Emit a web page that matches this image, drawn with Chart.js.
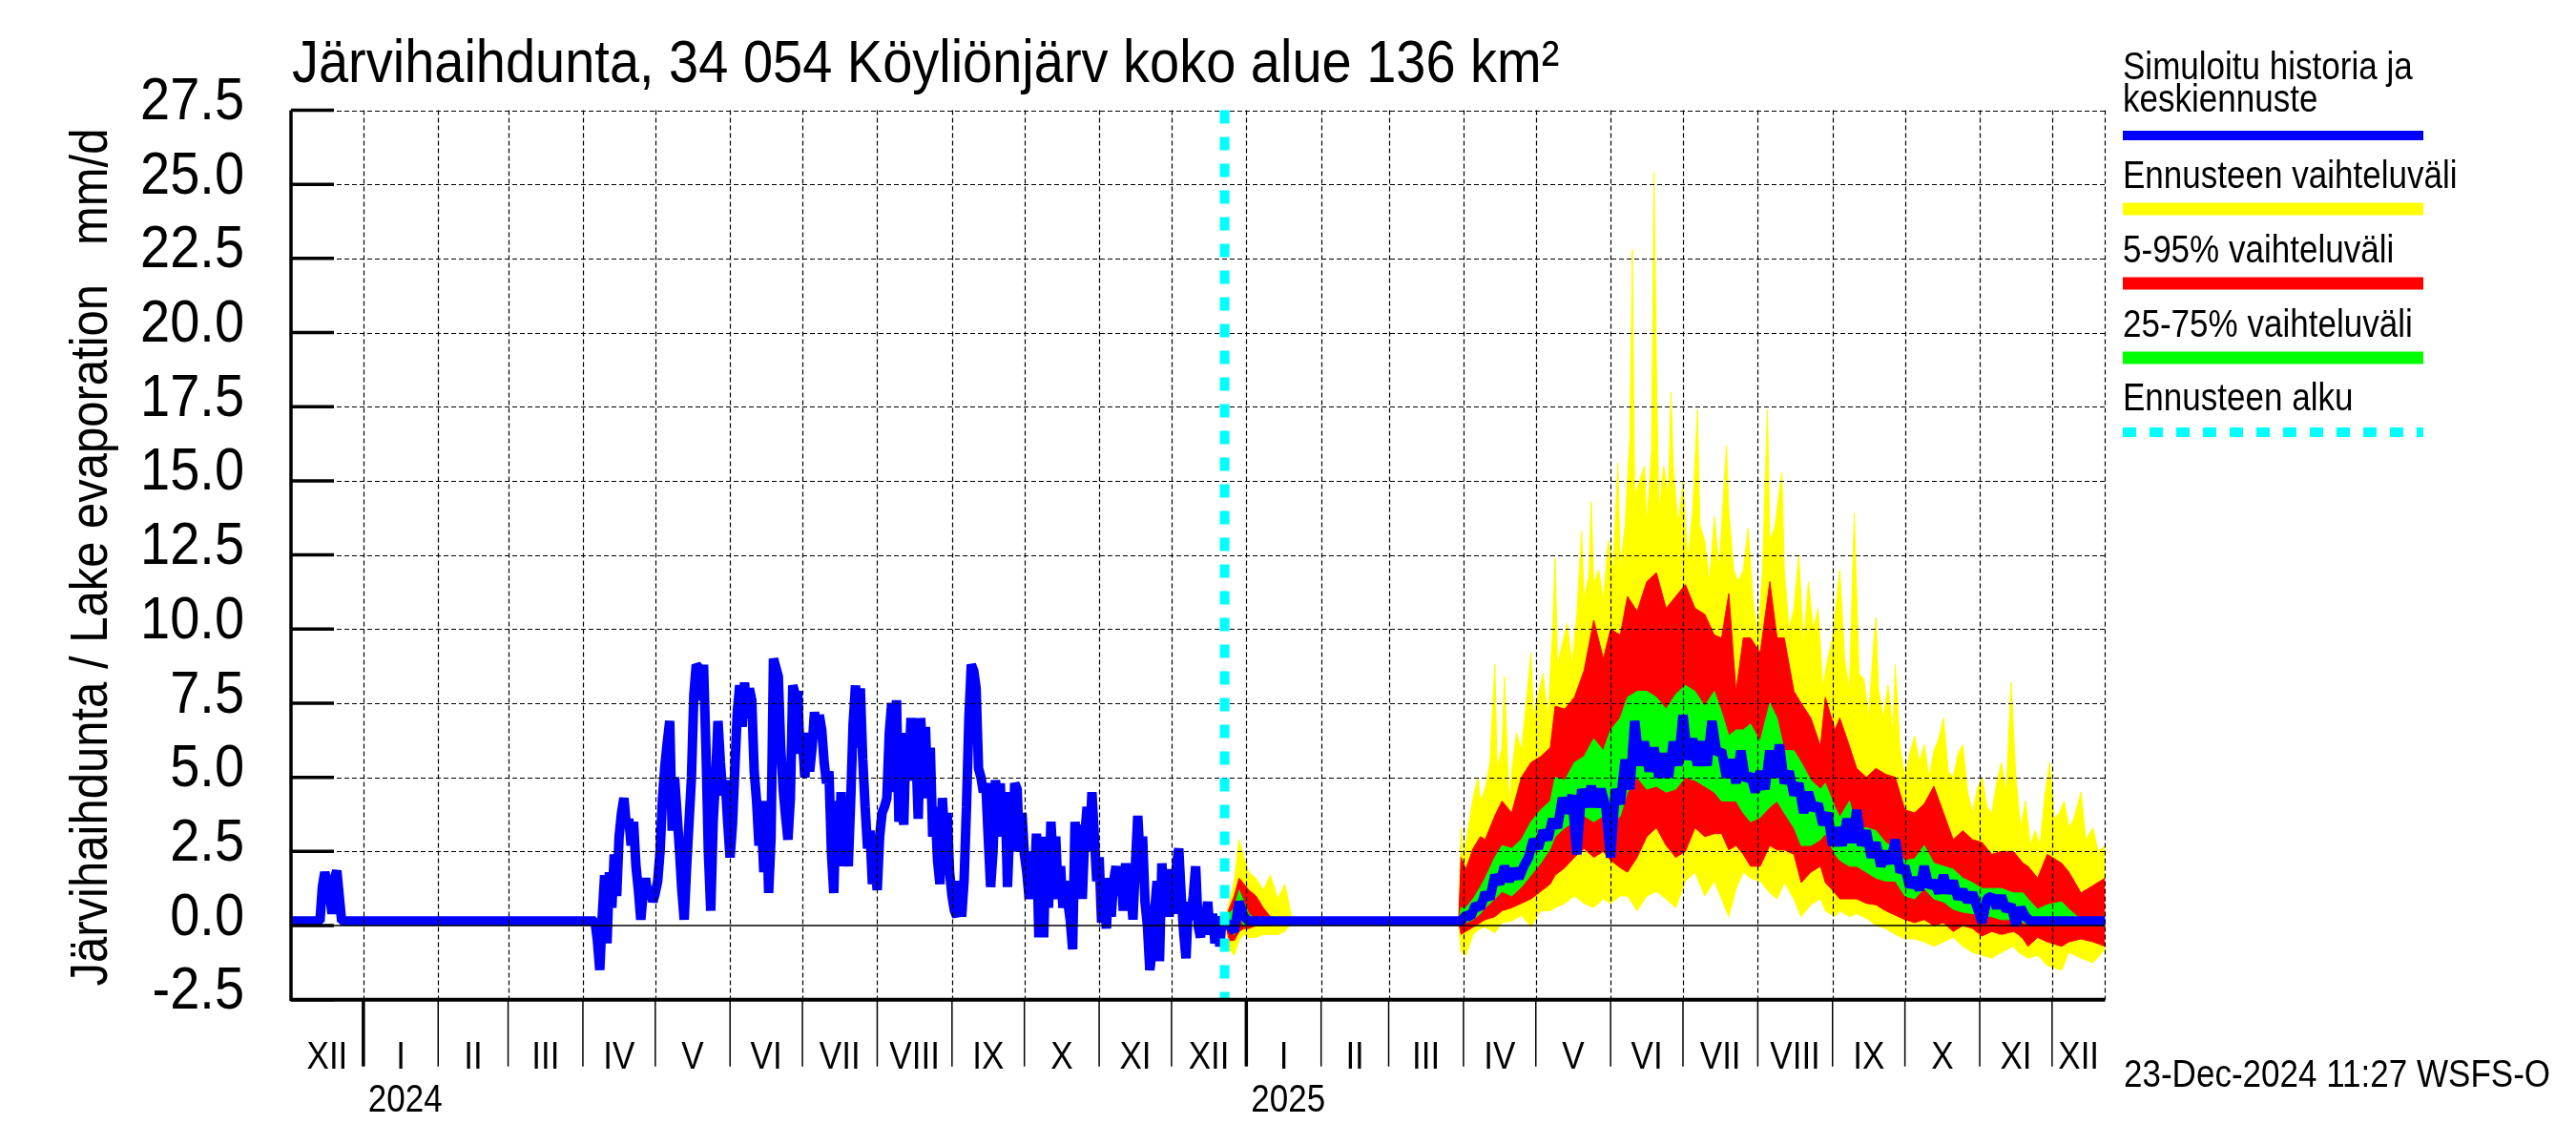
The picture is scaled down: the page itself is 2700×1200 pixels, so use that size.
<!DOCTYPE html>
<html>
<head>
<meta charset="utf-8">
<script src="https://cdn.jsdelivr.net/npm/chart.js@4.4.0/dist/chart.umd.min.js"></script>
<style>
    html, body { margin: 0; padding: 0; background: #fff; }
    canvas { display: block; }
</style>
</head>
<body>
<canvas id="chart" width="2700" height="1200" style="width:2700px;height:1200px"></canvas>
<script>
// Days are counted from 1 Dec 2023
const titleText = 'Järvihaihdunta, 34 054 Köyliönjärv koko alue 136 km²';
const yTitle = 'Järvihaihdunta / Lake evaporation   mm/d';
const stamp = '23-Dec-2024 11:27 WSFS-O';
const yTicks = [-2.5, 0, 2.5, 5, 7.5, 10, 12.5, 15, 17.5, 20, 22.5, 25, 27.5];
const monthLabels = ['XII', 'I', 'II', 'III', 'IV', 'V', 'VI', 'VII', 'VIII', 'IX', 'X', 'XI', 'XII',
    'I', 'II', 'III', 'IV', 'V', 'VI', 'VII', 'VIII', 'IX', 'X', 'XI', 'XII'];
const yearLabels = ['2024', '2025'];
const legendItems = [
    { text: ['Simuloitu historia ja', 'keskiennuste'], color: '#0000ff' },
    { text: ['Ennusteen vaihteluväli'], color: '#ffff00' },
    { text: ['5-95% vaihteluväli'], color: '#ff0000' },
    { text: ['25-75% vaihteluväli'], color: '#00ff00' },
    { text: ['Ennusteen alku'], color: '#00ffff', dashed: true }
];

const xMin = 1;
const xMax = 753;
const forecastStart = 388;

// simulated history: winter part as day/value pairs, then daily values
const winterDays = [1, 13, 14, 15, 16, 17, 18, 19, 20, 21, 22, 126];
const winterVals = [0.15, 0.15, 1.3, 1.8, 1.4, 1.1, 0.4, 1.6, 1.85, 1.0, 0.15, 0.15];
const summerStart = 127;
const summerVals = [
    0.15,
    -0.5, -1.5, 0.3, 1.7, -0.6, 1.8, 0.6, 2.4, 1.0, 3.0,
    3.8, 4.3, 3.4, 3.6, 2.7, 3.5, 2.0, 1.2, 0.2, 1.1,
    1.6, 0.9, 1.3, 0.8, 1.1, 1.5, 2.5, 4.3, 5.4, 6.2,
    6.9, 3.2, 5.0, 3.8, 2.6, 1.2, 0.2, 2.0, 3.5, 5.0,
    7.8, 8.8, 8.7, 7.6, 8.8, 6.0, 2.5, 0.5, 3.5, 5.0,
    6.9, 5.5, 4.4, 4.9, 3.5, 2.3, 3.4, 5.3, 7.2, 8.1,
    6.7, 8.2, 7.0, 8.0, 7.6, 5.2, 4.2, 2.7, 3.6, 1.8,
    4.2, 1.1, 3.0, 9.0, 8.7, 8.4, 6.0, 4.6, 3.7, 2.9,
    4.3, 8.1, 7.8, 7.9, 5.8, 6.3, 5.0, 6.5, 5.2, 6.0,
    7.2, 6.3, 7.1, 6.6, 5.5, 4.8, 5.2, 2.5, 1.1, 4.2,
    2.0, 4.5, 2.3, 3.5, 2.0, 4.2, 6.8, 8.1, 6.0, 8.0,
    5.6, 4.0, 2.6, 3.2, 1.4, 2.2, 1.2, 3.0, 3.8, 4.0,
    4.3, 6.5, 7.5, 4.5, 7.6, 3.5, 4.5, 3.4, 6.5, 5.0,
    7.0, 4.9, 6.0, 3.6, 7.0, 5.3, 6.7, 4.3, 6.0, 3.0,
    4.0, 2.2, 1.4, 4.3, 2.9, 3.8, 1.8, 1.0, 0.5, 0.3,
    1.5, 0.3, 1.5, 4.0, 7.0, 8.8, 8.6, 8.0, 5.3, 5.0,
    4.5, 4.8, 3.0, 1.3, 2.5, 4.9, 4.0, 4.8, 3.0, 4.5,
    1.3, 3.5, 2.5, 4.8, 4.6, 2.5, 3.8, 2.4, 1.8, 0.9,
    2.5, 1.2, 3.1, -0.4, 3.0, -0.4, 2.8, 0.6, 3.5, 2.0,
    3.0, 0.9, 2.0, 0.6, 1.5, 0.8, 0.2, -0.8, 3.5, 1.2,
    3.4, 0.9, 3.0, 4.0, 2.5, 4.5, 3.0, 1.5, 2.3, 0.1,
    1.0, -0.1, 1.6, 0.3, 1.5, 2.0, 1.0, 2.0, 0.5, 2.1,
    0.8, 1.5, 0.2, 2.0, 3.7, 2.2, 3.0, 0.8, 0.0, -1.5,
    -0.8, 0.5, 1.5, -1.2, 2.1, 0.4, 1.9, 0.3, 1.3, 0.4,
    2.0, 2.6, 1.0, -0.2, -1.1, 0.8, 0.2, 1.0, 2.0, 0.0,
    -0.4, 0.6, 0.2, 0.8, -0.3, 0.4, -0.6, 0.2, -0.7, 0.3, 0.1
];

// forecast percentiles
const fcDays = [388, 390, 392, 394, 396, 398, 401, 404, 407, 410,
    413, 416, 485, 486, 488, 491, 494, 496, 500, 503,
    507, 511, 515, 519, 523, 525, 529, 533, 537, 541,
    545, 548, 552, 555, 559, 563, 567, 571, 575, 579,
    583, 587, 591, 594, 597, 600, 603, 606, 610, 614,
    617, 620, 624, 627, 631, 635, 637, 641, 643, 647,
    650, 654, 658, 662, 666, 670, 674, 678, 682, 686,
    690, 694, 698, 702, 706, 710, 715, 717, 719, 721,
    725, 729, 735, 738, 743, 748, 753];
const fcP95 = [0.15, 0.6, 1.0, 1.6, 1.4, 1.2, 1.0, 0.6, 0.3, 0.2,
    0.2, 0.15, 0.15, 2.3, 1.9, 2.6, 3.0, 2.9, 3.7, 4.2,
    3.8, 5.0, 5.5, 5.7, 6.0, 7.4, 7.3, 7.7, 8.6, 10.3,
    9.0, 10.0, 9.8, 11.1, 10.6, 11.6, 11.9, 10.7, 11.1, 11.5,
    10.7, 10.5, 9.8, 9.7, 11.2, 7.9, 9.7, 9.7, 9.2, 11.6,
    9.7, 9.7, 7.9, 7.5, 7.0, 6.05, 7.7, 6.6, 7.0, 6.05,
    5.3, 5.0, 5.3, 5.1, 5.0, 3.9, 3.8, 4.1, 4.7, 3.8,
    2.9, 3.2, 2.9, 2.8, 2.4, 2.5, 2.5, 2.3, 2.1, 2.0,
    1.6, 2.4, 2.1, 1.8, 1.1, 1.35, 1.6];
const fcP75 = [0.15, 0.4, 0.6, 1.2, 0.8, 0.4, 0.2, 0.15, 0.15, 0.15,
    0.15, 0.15, 0.15, 0.6, 0.6, 0.9, 1.3, 1.6, 2.3, 2.7,
    2.6, 2.9, 3.5, 3.9, 4.2, 5.0, 4.9, 5.5, 5.7, 6.3,
    5.9, 6.6, 7.0, 7.7, 7.9, 7.9, 7.7, 7.3, 7.8, 8.1,
    7.9, 7.4, 7.9, 7.2, 6.4, 6.6, 6.6, 6.8, 6.2, 7.5,
    7.0, 5.9, 5.9, 5.5, 4.9, 4.6, 4.8, 4.0, 3.65, 4.2,
    3.3, 3.3, 3.2, 2.8, 2.6, 2.2, 2.25, 2.7, 2.1, 2.0,
    1.9, 1.6, 1.45, 1.25, 1.25, 1.25, 1.1, 1.1, 1.1, 0.9,
    0.55, 0.7, 0.8, 0.55, 0.2, 0.2, 0.3];
const fcP25 = [0.15, -0.2, -0.3, 0.3, 0.0, 0.0, 0.1, 0.1, 0.1, 0.1,
    0.15, 0.15, 0.15, 0.0, 0.1, 0.2, 0.4, 0.6, 0.9, 1.15,
    1.0, 1.3, 1.7, 2.1, 2.6, 3.0, 3.3, 3.5, 3.7, 3.5,
    3.7, 3.3, 3.7, 4.5, 5.0, 4.6, 4.7, 4.5, 4.6, 5.0,
    4.9, 4.7, 4.5, 4.2, 4.2, 4.2, 3.8, 3.5, 3.65, 4.0,
    4.2, 3.8, 3.3, 2.7, 2.7, 2.9, 3.1, 2.4, 2.2, 2.0,
    2.0, 1.8, 1.6, 1.5, 1.5, 1.0, 0.9, 1.25, 0.9, 0.8,
    0.55, 0.45, 0.4, 0.35, 0.3, 0.2, 0.2, 0.15, 0.1, 0.05,
    0.0, 0.0, 0.0, 0.0, 0.0, 0.0, 0.0];
const fcP5 = [0.15, -0.5, -0.5, -0.2, -0.1, -0.1, 0.0, 0.0, 0.0, 0.05,
    0.1, 0.15, 0.15, -0.3, -0.2, -0.05, 0.1, 0.2, 0.3, 0.5,
    0.6, 0.75, 0.9, 1.15, 1.4, 1.7, 1.95, 2.3, 2.6, 2.3,
    2.5, 2.2, 1.95, 1.8, 2.3, 3.0, 3.3, 2.7, 2.3, 2.5,
    3.3, 3.0, 3.1, 3.1, 2.55, 2.7, 2.4, 2.0, 2.0, 2.7,
    2.55, 2.55, 2.4, 1.45, 1.8, 2.0, 1.45, 1.1, 0.9, 0.9,
    0.9, 0.75, 0.7, 0.5, 0.35, 0.2, 0.1, 0.2, 0.0, 0.1,
    -0.2, 0.0, -0.1, -0.35, -0.2, -0.3, -0.2, -0.3, -0.45, -0.7,
    -0.4, -0.55, -0.7, -0.55, -0.45, -0.55, -0.7];
const fcMin = [0.15, -0.8, -1.0, -0.5, -0.3, -0.4, -0.4, -0.3, -0.3, -0.3,
    -0.2, 0.15, 0.15, -0.9, -1.0, -0.3, -0.1, -0.05, -0.25, 0.1,
    0.15, 0.35, -0.05, 0.5, 0.5, 0.6, 0.75, 1.0, 0.75, 0.6,
    0.9, 0.75, 1.0, 1.0, 0.5, 1.0, 1.15, 0.9, 0.6, 1.5,
    1.8, 1.0, 1.5, 0.9, 0.3, 1.25, 1.8, 1.6, 1.5, 1.1,
    0.9, 1.45, 0.9, 0.3, 0.7, 0.9, 0.5, 0.3, 0.5, 0.3,
    0.4, 0.25, 0.0, -0.1, -0.3, -0.45, -0.45, -0.55, -0.7, -0.55,
    -0.4, -0.7, -0.9, -1.0, -1.1, -0.9, -0.7, -0.9, -1.0, -1.1,
    -1.0, -1.35, -1.5, -0.9, -1.1, -1.25, -0.8];

// forecast median: start, every second day 486..722, end
const medHeadDays = [388, 390, 392, 394, 396, 398, 485];
const medHeadVals = [0.15, 0.0, -0.2, 0.8, 0.3, 0.15, 0.15];
const medStart = 486;
const medVals = [
    0.15, 0.35, 0.3, 0.7, 0.6, 1.1, 0.9, 1.7, 1.4, 2.0,
    1.5, 1.9, 1.6, 2.0, 2.3, 2.9, 2.6, 3.2, 2.9, 3.6,
    3.3, 4.3, 3.8, 4.4, 2.4, 4.6, 4.0, 4.7, 4.0, 4.6,
    4.0, 2.3, 4.6, 4.1, 5.6, 4.6, 6.9, 5.4, 6.2, 5.2,
    6.0, 5.0, 5.8, 5.0, 6.2, 5.4, 7.1, 5.6, 6.3, 5.4,
    6.2, 5.4, 6.9, 5.8, 5.9, 5.0, 5.6, 4.8, 5.9, 4.9,
    5.1, 4.5, 5.2, 4.6, 5.9, 5.0, 6.1, 4.8, 5.2, 4.4,
    4.8, 3.8, 4.5, 3.9, 4.1, 3.4, 3.8, 2.7, 3.3, 2.7,
    3.6, 2.8, 3.9, 2.7, 3.2, 2.3, 2.8, 2.0, 2.5, 2.1,
    2.9, 1.8, 2.0, 1.3, 1.6, 1.2, 2.0, 1.3, 1.5, 1.1,
    1.7, 1.1, 1.5, 0.9, 1.2, 0.8, 1.1, 0.6, 0.1, 0.9,
    1.0, 0.6, 1.0, 0.5, 0.7, 0.0, 0.6, 0.3, 0.15
];
const medTailDays = [753];
const medTailVals = [0.15];

// forecast maximum has its own, denser days
const maxDays = [388, 390, 392, 394, 396, 398, 401, 404, 407, 410,
    413, 416, 485, 486, 487, 488, 490, 491, 493, 494,
    496, 498, 500, 501, 503, 504, 506, 507, 509, 511,
    513, 515, 516, 518, 520, 522, 524, 525, 526, 528,
    530, 532, 534, 536, 537, 539, 540, 541, 543, 545,
    547, 549, 551, 552, 554, 556, 557, 558, 560, 562,
    563, 565, 566, 567, 568, 570, 572, 573, 574, 576,
    578, 580, 582, 584, 585, 587, 589, 591, 593, 594,
    596, 597, 599, 601, 603, 605, 607, 609, 611, 613,
    614, 616, 619, 620, 622, 624, 626, 628, 630, 632,
    634, 636, 638, 640, 643, 645, 647, 649, 651, 653,
    655, 657, 658, 659, 661, 663, 665, 666, 668, 670,
    672, 674, 676, 678, 680, 682, 684, 686, 688, 690,
    692, 694, 696, 698, 700, 702, 704, 706, 708, 710,
    712, 714, 716, 718, 720, 722, 724, 726, 728, 730,
    732, 734, 736, 738, 740, 743, 745, 748, 750, 753];
const maxVals = [0.15, 0.8, 1.5, 2.9, 2.3, 1.8, 1.6, 1.2, 1.7, 0.9,
    1.4, 0.15, 0.15, 3.3, 2.0, 2.8, 3.8, 4.3, 5.0, 4.2,
    4.6, 5.5, 8.8, 5.3, 6.0, 8.4, 4.0, 5.2, 6.5, 5.9,
    7.5, 9.2, 7.0, 7.8, 8.5, 7.0, 10.0, 12.4, 8.8, 9.5,
    10.2, 8.8, 10.5, 13.3, 11.0, 11.8, 14.3, 11.5, 12.0, 11.0,
    13.0, 12.0, 15.6, 12.0, 13.5, 16.5, 22.8, 14.5, 15.0, 15.5,
    13.5, 16.0, 25.4, 18.7, 14.0, 15.5, 14.5, 18.0, 15.5, 13.5,
    15.0, 12.3, 14.0, 17.4, 13.5, 13.0, 11.6, 13.8, 12.0, 13.4,
    16.2, 14.0, 12.0, 11.6, 12.0, 13.4, 11.0, 9.7, 12.0, 17.4,
    13.0, 13.4, 15.3, 12.0, 10.0, 10.7, 12.5, 9.5, 11.6, 10.0,
    10.7, 8.0, 9.0, 9.7, 12.0, 9.0, 7.9, 13.9, 8.5, 8.3,
    7.0, 9.5, 10.4, 8.0, 7.0, 8.1, 6.5, 8.8, 6.0, 5.0,
    5.8, 6.4, 5.5, 6.1, 5.0, 5.9, 6.3, 7.0, 5.2, 5.0,
    5.8, 6.1, 4.5, 3.8, 4.6, 5.0, 4.0, 3.8, 4.8, 5.5,
    4.5, 8.2, 5.0, 3.3, 4.2, 2.7, 3.2, 2.7, 4.4, 5.5,
    3.6, 3.8, 4.2, 3.3, 3.6, 4.5, 2.9, 3.3, 2.5, 2.7];

const FONT = '"Liberation Sans", Arial, Helvetica, sans-serif';
const NARROW = 0.88; // the original lettering is a bit condensed

const DAY0 = Date.UTC(2023, 11, 1);
function dayOf(y, m, d) {
    return Math.round((Date.UTC(y, m, d) - DAY0) / 86400000);
}
const monthStarts = [];
for (let k = 0; k <= 25; k++) monthStarts.push(dayOf(2023, 11 + k, 1));
const yearStarts = [dayOf(2024, 0, 1), dayOf(2025, 0, 1)];

function toPoints(days, vals) {
    return days.map((d, i) => ({ x: d, y: vals[i] }));
}

const historyPoints = toPoints(winterDays, winterVals)
    .concat(summerVals.map((v, i) => ({ x: summerStart + i, y: v })));
const medianPoints = toPoints(medHeadDays, medHeadVals)
    .concat(medVals.map((v, i) => ({ x: medStart + 2 * i, y: v })))
    .concat(toPoints(medTailDays, medTailVals));

function band(data, color, fill, order) {
    return {
        data: data,
        borderColor: color,
        backgroundColor: color,
        borderWidth: 1,
        fill: fill,
        order: order,
        pointRadius: 0
    };
}

const datasets = [
    band(toPoints(maxDays, maxVals), '#ffff00', 1, 6),
    band(toPoints(fcDays, fcMin), '#ffff00', false, 6),
    band(toPoints(fcDays, fcP95), '#ff0000', 3, 5),
    band(toPoints(fcDays, fcP5), '#ff0000', false, 5),
    band(toPoints(fcDays, fcP75), '#00ff00', 5, 4),
    band(toPoints(fcDays, fcP25), '#00ff00', false, 4),
    {
        data: medianPoints,
        borderColor: '#0000ff',
        borderWidth: 10,
        borderJoinStyle: 'bevel',
        fill: false,
        order: 2,
        pointRadius: 0
    },
    {
        data: historyPoints,
        borderColor: '#0000ff',
        borderWidth: 10,
        borderJoinStyle: 'bevel',
        fill: false,
        order: 1,
        pointRadius: 0
    }
];

function strokeLine(ctx, x1, y1, x2, y2) {
    ctx.beginPath();
    ctx.moveTo(x1, y1);
    ctx.lineTo(x2, y2);
    ctx.stroke();
}

// condensed text: size is given for the normal width, glyphs get taller
function drawText(ctx, str, x, y, size, align, baseline, angle) {
    ctx.save();
    ctx.translate(x, y);
    if (angle) ctx.rotate(angle);
    ctx.scale(NARROW, 1);
    ctx.font = (size / NARROW).toFixed(1) + 'px ' + FONT;
    ctx.textAlign = align;
    ctx.textBaseline = baseline || 'alphabetic';
    ctx.fillText(str, 0, 0);
    ctx.restore();
}

// grid, axes and texts drawn over the data like in the original
const frame = {
    id: 'frame',
    afterDatasetsDraw(chart) {
        const { ctx, chartArea: a, scales: { x, y } } = chart;
        ctx.save();

        // dashed grid
        ctx.strokeStyle = '#000';
        ctx.lineWidth = 1.2;
        ctx.setLineDash([5, 3]);
        ctx.beginPath();
        yTicks.forEach(v => {
            if (v === 0 || v === yTicks[0]) return;
            const py = Math.round(y.getPixelForValue(v)) + 0.5;
            ctx.moveTo(a.left, py);
            ctx.lineTo(a.right, py);
        });
        monthStarts.forEach(d => {
            if (d <= x.min || d >= x.max) return;
            const px = Math.round(x.getPixelForValue(d)) + 0.5;
            ctx.moveTo(px, a.top);
            ctx.lineTo(px, a.bottom);
        });
        const pr = Math.round(x.getPixelForValue(x.max)) - 0.5;
        ctx.moveTo(pr, a.top);
        ctx.lineTo(pr, a.bottom);
        ctx.stroke();

        // zero line
        ctx.setLineDash([]);
        ctx.lineWidth = 1.5;
        const p0 = y.getPixelForValue(0);
        strokeLine(ctx, a.left, p0, a.right, p0);

        // forecast start
        ctx.strokeStyle = '#00ffff';
        ctx.lineWidth = 10;
        ctx.setLineDash([14, 14]);
        const pf = x.getPixelForValue(forecastStart);
        strokeLine(ctx, pf, a.top, pf, a.bottom);
        ctx.setLineDash([]);

        // short y ticks inside
        ctx.strokeStyle = '#000';
        ctx.lineWidth = 3.5;
        yTicks.forEach(v => {
            const py = y.getPixelForValue(v);
            strokeLine(ctx, a.left, py, a.left + 45, py);
        });

        // axes
        ctx.lineWidth = 3.5;
        strokeLine(ctx, a.left, a.top, a.left, a.bottom + 1.5);
        ctx.lineWidth = 4;
        strokeLine(ctx, a.left, a.bottom, a.right, a.bottom);

        ctx.restore();
    },
    afterDraw(chart) {
        const { ctx, chartArea: a, scales: { x, y } } = chart;
        ctx.save();
        ctx.fillStyle = '#000';
        ctx.strokeStyle = '#000';

        drawText(ctx, titleText, 306, 86, 56, 'left');

        // y tick labels
        yTicks.forEach(v => {
            drawText(ctx, v.toFixed(1), a.left - 49, y.getPixelForValue(v) - 8, 56, 'right', 'middle');
        });

        drawText(ctx, yTitle, 112, 584, 49, 'center', 'alphabetic', -Math.PI / 2);

        // month ticks below the axis
        monthStarts.forEach(d => {
            if (d < x.min || d > x.max) return;
            const px = x.getPixelForValue(d);
            ctx.lineWidth = yearStarts.includes(d) ? 3.5 : 1.5;
            strokeLine(ctx, px, a.bottom, px, a.bottom + 70);
        });

        // month labels
        monthLabels.forEach((lab, i) => {
            const d1 = Math.max(monthStarts[i], x.min);
            const d2 = Math.min(monthStarts[i + 1], x.max);
            const px = (x.getPixelForValue(d1) + x.getPixelForValue(d2)) / 2;
            drawText(ctx, lab, px, 1120, 35, 'center');
        });

        yearLabels.forEach((lab, i) => {
            drawText(ctx, lab, x.getPixelForValue(yearStarts[i]) + 5, 1165, 35, 'left');
        });

        drawText(ctx, stamp, 2226, 1139, 35, 'left');

        // legend
        const lx = 2225, lw = 315;
        const textBase = [[83, 117], [197], [275], [353], [430]];
        const lineY = [142, 219, 297, 375, 453];
        legendItems.forEach((item, i) => {
            ctx.fillStyle = '#000';
            item.text.forEach((t, j) => drawText(ctx, t, lx, textBase[i][j], 35, 'left'));
            ctx.strokeStyle = item.color;
            ctx.lineWidth = (i === 0 || item.dashed) ? 10 : 13;
            ctx.setLineDash(item.dashed ? [14, 14] : []);
            strokeLine(ctx, lx, lineY[i], lx + lw, lineY[i]);
        });

        ctx.restore();
    }
};

new Chart(document.getElementById('chart'), {
    type: 'line',
    data: { datasets: datasets },
    options: {
        responsive: false,
        animation: false,
        devicePixelRatio: 1,
        layout: { padding: { left: 305, right: 493.5, top: 115.5, bottom: 152.3 } },
        scales: {
            x: { type: 'linear', min: xMin, max: xMax, display: false },
            y: { type: 'linear', min: -2.5, max: 27.5, display: false }
        },
        plugins: {
            legend: { display: false },
            tooltip: { enabled: false }
        },
        elements: { line: { tension: 0 }, point: { radius: 0 } }
    },
    plugins: [frame]
});
</script>
</body>
</html>
